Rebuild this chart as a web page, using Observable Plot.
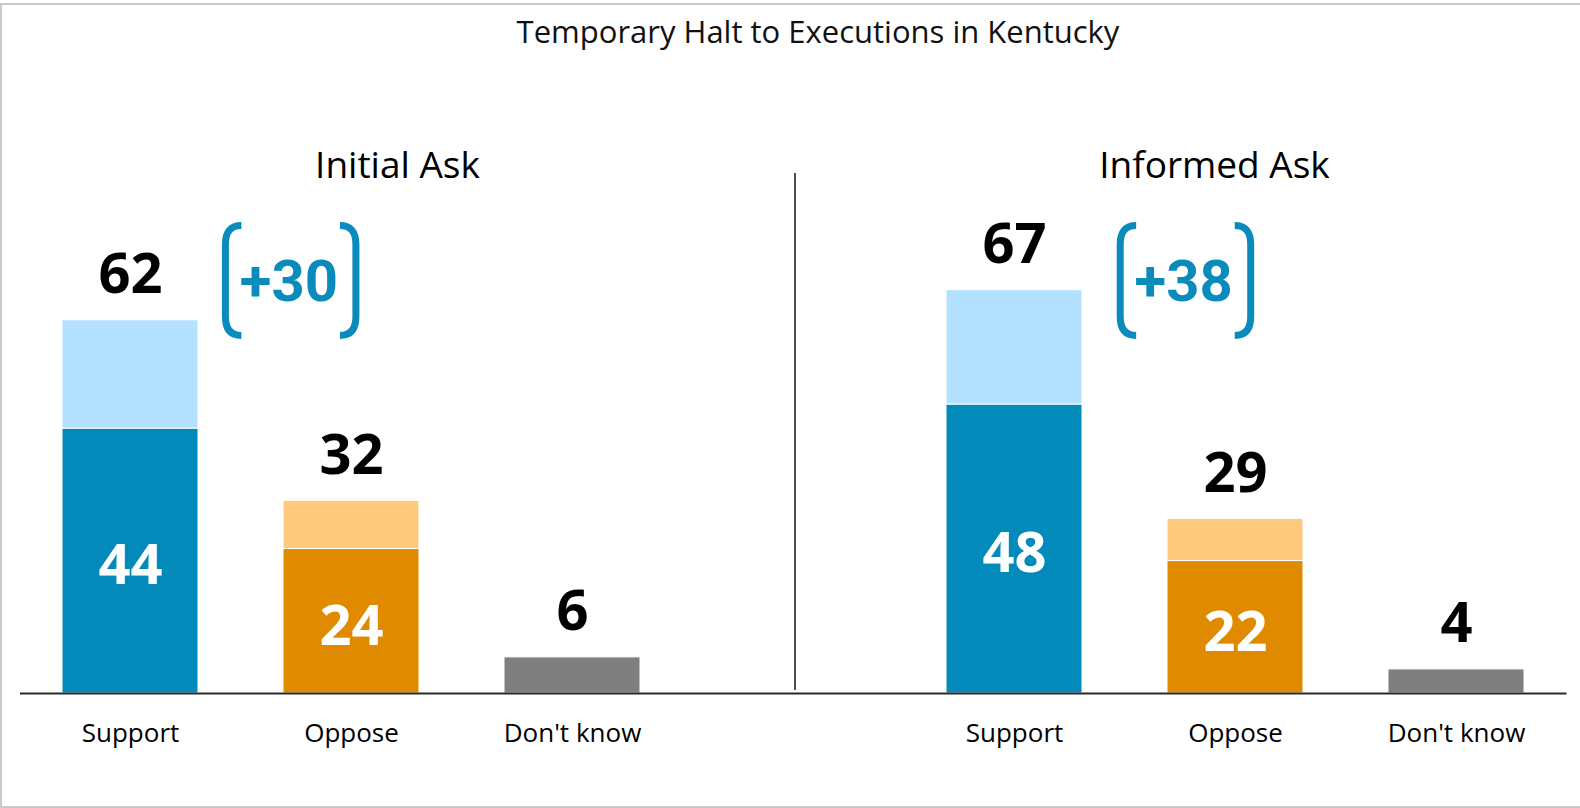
<!DOCTYPE html>
<html>
<head>
<meta charset="utf-8">
<script src="https://cdn.jsdelivr.net/npm/d3@7"></script>
<script src="https://cdn.jsdelivr.net/npm/@observablehq/plot@0.6"></script>
<style>
  html, body { margin: 0; padding: 0; background: #fff; overflow: hidden; }
  #border { position: absolute; left: 0px; top: 2.5px; width: 1620px; height: 805px; border: 2px solid #c9c9c9; box-sizing: border-box; }
  #title { position: absolute; left: 0; top: 13px; width: 1580px; padding-left: 56px; box-sizing: border-box; text-align: center;
           font-family: "Open Sans", sans-serif; font-size: 31px; line-height: 36px; color: #111; }
  #chart { position: absolute; left: 0; top: 60px; }
</style>
</head>
<body>
<div id="border"></div>
<div id="title">Temporary Halt to Executions in Kentucky</div>
<div id="chart"></div>
<script>
// ---- data ----
const panels = ["Initial Ask", "Informed Ask"];
const categories = ["Support", "Oppose", "Don't know"];
const initialTotal = [62, 32, 6];
const initialStrong = [44, 24, null];
const informedTotal = [67, 29, 4];
const informedStrong = [48, 22, null];
const netMargin = [30, 38];

// ---- colours ----
const darkColor = {"Support": "#028bba", "Oppose": "#e08a00", "Don't know": "#7f7f7f"};
const lightColor = {"Support": "#b4e1ff", "Oppose": "#ffc97d", "Don't know": "#7f7f7f"};
const accent = "#0a8bbb";

// ---- table built from the arrays ----
const totalsByPanel = [initialTotal, informedTotal];
const strongByPanel = [initialStrong, informedStrong];
const rows = [];
panels.forEach((p, pi) => {
  categories.forEach((c, ci) => {
    rows.push({panel: p, category: c, key: p + "|" + c,
               total: totalsByPanel[pi][ci], strong: strongByPanel[pi][ci]});
  });
});
const SPACER = "|";
const xDomain = [...rows.filter(d => d.panel === panels[0]).map(d => d.key), SPACER,
                 ...rows.filter(d => d.panel === panels[1]).map(d => d.key)];
const annotations = panels.map((p, i) => ({panel: p, key: p + "|Oppose", label: "+" + netMargin[i]}));

// custom bracket symbols (rounded square brackets)
function bracket(dir) {
  return {
    draw(ctx, size) {
      const r = Math.sqrt(size / Math.PI);
      const w = r * 0.29 * dir, c = r * 0.34;
      ctx.moveTo(w, -r);
      ctx.quadraticCurveTo(0, -r, 0, -r + c);
      ctx.lineTo(0, r - c);
      ctx.quadraticCurveTo(0, r, w, r);
    }
  };
}

function annotationMarks(i, dx) {
  const data = [annotations[i]];
  return [
    Plot.dot(data, {x: "key", frameAnchor: "top", dy: 189, dx: dx - 63.5, r: 55, symbol: bracket(1),
                    fill: "none", stroke: accent, strokeWidth: 7}),
    Plot.dot(data, {x: "key", frameAnchor: "top", dy: 189, dx: dx + 67, r: 55, symbol: bracket(-1),
                    fill: "none", stroke: accent, strokeWidth: 7}),
    Plot.text(data, {x: "key", frameAnchor: "top", dy: 191, dx: dx, text: "label", lineAnchor: "middle",
                     fill: accent, fontSize: 58, fontWeight: "bold", fontFamily: "Roboto"})
  ];
}

const chart = Plot.plot({
  width: 1580,
  height: 748,
  marginTop: 31,
  marginBottom: 115,
  marginLeft: 20,
  marginRight: 13.5,
  style: {fontFamily: "'Open Sans', sans-serif", color: "#000", background: "transparent"},
  x: {domain: xDomain, paddingInner: 0.385, paddingOuter: 0.19, axis: null},
  y: {domain: [0, 100], axis: null},
  marks: [
    // dark (strong) part, or full bar when no split
    Plot.barY(rows, {x: "key", y1: 0, y2: d => d.strong ?? d.total, fill: d => darkColor[d.category],
                     stroke: "white", strokeWidth: 1}),
    // light part up to the total
    Plot.barY(rows.filter(d => d.strong != null), {x: "key", y1: "strong", y2: "total",
                     fill: d => lightColor[d.category], stroke: "white", strokeWidth: 1}),
    Plot.ruleY([0], {stroke: "#2a2a2a", strokeWidth: 1.8}),
    Plot.ruleX([SPACER], {x: d => d, dx: 1.5, insetTop: 82, insetBottom: 3, stroke: "#222", strokeWidth: 1.6}),
    Plot.axisX({tickSize: 0, tickPadding: 30, fontSize: 26, label: null,
                tickFormat: k => k === SPACER ? "" : k.split("|")[1]}),
    // totals above bars
    Plot.text(rows, {x: "key", y: "total", text: d => String(d.total), dy: -45, lineAnchor: "middle",
                     fontSize: 56, fontWeight: "bold", fill: "#000"}),
    // strong values inside bars
    Plot.text(rows.filter(d => d.strong != null), {x: "key", y: d => d.strong / 2, text: d => String(d.strong),
                     dy: 5.5, lineAnchor: "middle", fontSize: 56, fontWeight: "bold", fill: "white"}),
    // panel titles
    Plot.text([panels[0]], {x: () => panels[0] + "|Oppose", text: d => d, frameAnchor: "top", dy: 75, dx: 46,
                     lineAnchor: "middle", fontSize: 37, fill: "#000"}),
    Plot.text([panels[1]], {x: () => panels[1] + "|Oppose", text: d => d, frameAnchor: "top", dy: 75, dx: -21,
                     lineAnchor: "middle", fontSize: 37, fill: "#000"}),
    ...annotationMarks(0, -62.6),
    ...annotationMarks(1, -51.8)
  ]
});
document.getElementById("chart").appendChild(chart);
</script>
</body>
</html>
